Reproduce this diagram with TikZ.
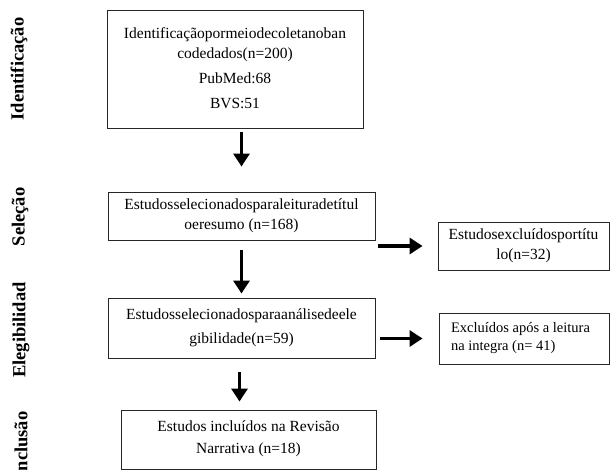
\documentclass[tikz,border=0pt]{standalone}
\usepackage{fontspec}
\setmainfont{Liberation Serif}
\usetikzlibrary{arrows.meta,calc}
\tikzset{
  box/.style={draw=black!85, line width=0.9pt, rectangle, align=center, inner sep=0pt,
    font=\fontsize{15.5}{20}\selectfont},
  flow/.style={line width=3.4pt, -{Triangle[length=13pt,width=16pt]}},
  phase/.style={rotate=90, font=\bfseries\fontsize{18.5}{20}\selectfont, inner sep=0pt}
}
\begin{document}
\begin{tikzpicture}[x=1pt,y=-1pt]
\useasboundingbox (0,0) rectangle (611,470);
% phase labels
\node[phase] (l1) at (19,69) {Identificação};
\node[phase] (l2) at (20,217) {Seleção};
\node[phase] (l3) at (21,330) {Elegibilidad};
\node[phase] (l4) at (21,445) {Inclusão};
% boxes
\node[box, minimum width=256pt, minimum height=118pt] (b1) at (235,69)
  {Identificaçãopormeiodecoletanoban\\codedados(n=200)\\[5pt]PubMed:68\\[5pt]BVS:51\\[-18pt]};
\node[box, minimum width=267pt, minimum height=48pt] (b2) at (241.5,216)
  {Estudosselecionadosparaleituradetítul\\oeresumo (n=168)};
\node[box, minimum width=267pt, minimum height=60pt] (b3) at (241.5,328)
  {Estudosselecionadosparaanálisedeele\\[4pt]gibilidade(n=59)};
\node[box, minimum width=255pt, minimum height=59pt] (b4) at (248.5,439.5)
  {Estudos incluídos na Revisão\\[2pt]Narrativa (n=18)\\[-16pt]};
\node[box, minimum width=171pt, minimum height=48pt] (r1) at (523.5,246)
  {Estudosexcluídosportítu\\lo(n=32)};
\node[box, minimum width=170pt, minimum height=51pt, align=left,
  font=\fontsize{14.5}{18}\selectfont] (r2) at (524,338.5)
  {\makebox[146pt][l]{Excluídos após a leitura}\\na integra (n= 41)};
% arrows
\draw[flow, shorten <=4pt, shorten >=25pt] (b2.north |- b1.south) -- (b2.north);
\draw[flow, shorten <=10pt, shorten >=4pt] (b2.south) -- (b3.north);
\draw[flow, shorten <=14pt, shorten >=8pt] ($(b3.south)+(-2,0)$) -- ($(b3.south |- b4.north)+(-2,0)$);
\draw[flow, shorten <=3pt, shorten >=15pt] (r1.west -| b2.east) -- (r1.west);
\draw[flow, shorten <=5pt, shorten >=16pt] (r2.west -| b3.east) -- (r2.west);
\end{tikzpicture}
\end{document}
